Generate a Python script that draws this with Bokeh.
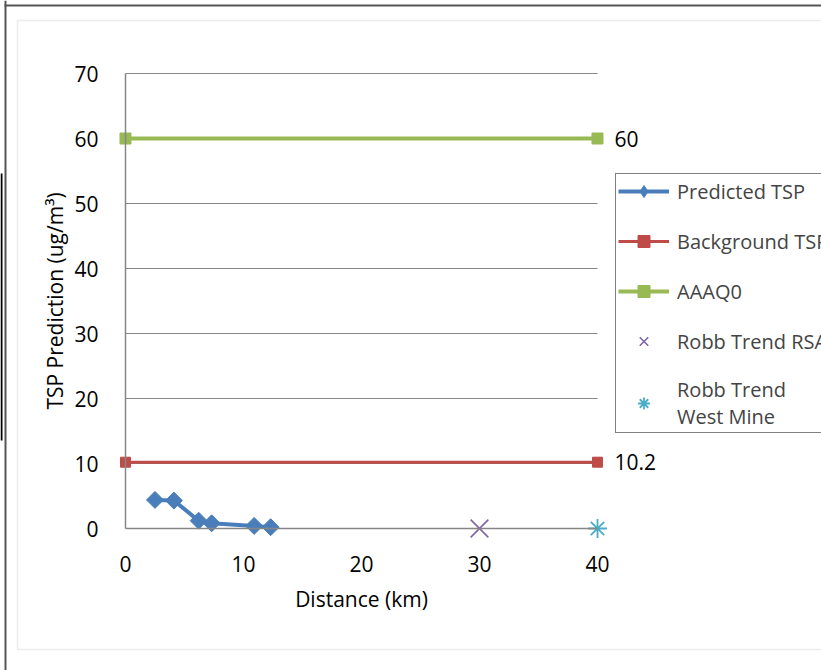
from bokeh.plotting import figure
from bokeh.models import (Legend, LegendItem, ColumnDataSource, LabelSet,
                          BoxAnnotation, Range1d)
from bokeh.core.properties import value
from bokeh.embed import file_html
from bokeh.resources import INLINE
import math

# --- data -------------------------------------------------------------
distance_km = [2.5, 4.1, 6.2, 7.3, 10.9, 12.3]
predicted_tsp = [4.4, 4.3, 1.2, 0.8, 0.4, 0.2]

background_x = [0, 40]
background_tsp = [10.2, 10.2]

aaaq_x = [0, 40]
aaaq_tsp = [60, 60]

robb_rsa_x = [30]
robb_rsa_y = [0]

robb_west_x = [40]
robb_west_y = [0]

x_ticks = [0, 10, 20, 30, 40]
y_ticks = [0, 10, 20, 30, 40, 50, 60, 70]

FONT = "Open Sans"
GRID = "#868686"

# The frame fills the whole canvas; axes sit at fixed data positions so
# that markers on the plot edges and the legend are not cut by the frame.
p = figure(width=821, height=670, output_backend="svg", toolbar_location=None,
           x_range=Range1d(-10.593, 58.983), y_range=Range1d(-21.846, 81.231),
           min_border=0)
p.outline_line_color = None
p.background_fill_color = "white"
p.border_fill_color = "white"

# horizontal gridlines, limited to the plotting area
p.xgrid.grid_line_color = None
p.ygrid.grid_line_color = None
p.segment(x0=x_ticks[0], x1=x_ticks[-1], y0=y_ticks[1:], y1=y_ticks[1:],
          line_color=GRID, line_width=1.2, level="underlay")

# axes
for ax in (p.xaxis, p.yaxis):
    ax.fixed_location = 0
    ax.axis_line_color = GRID
    ax.axis_line_width = 1.5
    ax.major_tick_line_color = None
    ax.minor_tick_line_color = None
    ax.major_label_text_font = FONT
    ax.major_label_text_font_size = "21px"
    ax.major_label_text_color = "black"
    ax.axis_label_text_font = FONT
    ax.axis_label_text_font_size = "21px"
    ax.axis_label_text_font_style = "normal"
    ax.axis_label_text_color = "black"
    ax.major_label_standoff = 21

p.xaxis.ticker = x_ticks
p.yaxis.ticker = y_ticks
p.xaxis.bounds = (x_ticks[0], x_ticks[-1])
p.yaxis.bounds = (y_ticks[0], y_ticks[-1])
p.xaxis.axis_label = "Distance (km)"
p.yaxis.axis_label = "TSP Prediction (ug/m\u00b3)"
p.xaxis.axis_label_standoff = 10
p.yaxis.axis_label_standoff = 2

# series
BLUE, RED, GREEN, PURPLE, CYAN = "#4a7ebb", "#be4b48", "#98b954", "#8064a2", "#4bacc6"

pred_line = p.line(distance_km, predicted_tsp, color=BLUE, line_width=4)
pred_mark = p.scatter(distance_km, predicted_tsp, marker="square", size=12,
                      angle=math.pi / 4, color=BLUE)
# diamond key for the legend entry (legend keys are drawn unrotated);
# its single point is NaN, so nothing appears in the plot area
pred_key = p.scatter(x=[math.nan], y=[math.nan], marker="diamond", size=12,
                     color=BLUE)

bg_line = p.line(background_x, background_tsp, color=RED, line_width=3)
bg_mark = p.scatter(background_x, background_tsp, marker="square", size=10,
                    color=RED)

aaaq_line = p.line(aaaq_x, aaaq_tsp, color=GREEN, line_width=4)
aaaq_mark = p.scatter(aaaq_x, aaaq_tsp, marker="square", size=11,
                      color=GREEN)

rsa_mark = p.scatter(robb_rsa_x, robb_rsa_y, marker="x", size=25,
                     line_color=PURPLE, line_width=1.6)
west_mark = p.scatter(robb_west_x, robb_west_y, marker="asterisk", size=19,
                      line_color=CYAN, line_width=1.8)

# value labels at the right end of the reference lines
lbl_src = ColumnDataSource(dict(
    x=[aaaq_x[-1], background_x[-1]],
    y=[aaaq_tsp[-1], background_tsp[-1]],
    text=[f"{aaaq_tsp[-1]:g}", f"{background_tsp[-1]:g}"],
))
p.add_layout(LabelSet(x="x", y="y", text="text", source=lbl_src,
                      x_offset=17, text_baseline="middle",
                      text_font=value(FONT), text_font_size=value("21px"),
                      text_color="black"))

legend = Legend(items=[
    LegendItem(label="Predicted TSP", renderers=[pred_line, pred_key]),
    LegendItem(label="Background TSP", renderers=[bg_line, bg_mark]),
    LegendItem(label="AAAQ0", renderers=[aaaq_line, aaaq_mark]),
    LegendItem(label="Robb Trend RSA", renderers=[rsa_mark]),
    LegendItem(label="Robb Trend\nWest Mine", renderers=[west_mark]),
], location=(615, 237))
legend.border_line_color = "black"
legend.border_line_width = 1
legend.label_text_font = FONT
legend.label_text_font_size = "20px"
legend.glyph_width = 51
legend.glyph_height = 30
legend.label_standoff = 8
legend.padding = 2
legend.spacing = 20
legend.margin = 0
p.add_layout(legend)

# chart-area frame and page edges
p.add_layout(BoxAnnotation(left=17, right=840, top=20, bottom=649,
                           left_units="canvas", right_units="canvas",
                           top_units="canvas", bottom_units="canvas",
                           fill_color=None, line_color="#c0c0c0",
                           line_width=1.5, level="underlay"))
p.add_layout(BoxAnnotation(left=4, right=6, top=0, bottom=670,
                           left_units="canvas", right_units="canvas",
                           top_units="canvas", bottom_units="canvas",
                           fill_color="#555555", fill_alpha=1,
                           line_color=None))
p.add_layout(BoxAnnotation(left=4, right=821, top=4, bottom=6,
                           left_units="canvas", right_units="canvas",
                           top_units="canvas", bottom_units="canvas",
                           fill_color="#555555", fill_alpha=1,
                           line_color=None))
p.add_layout(BoxAnnotation(left=0, right=2, top=173, bottom=440,
                           left_units="canvas", right_units="canvas",
                           top_units="canvas", bottom_units="canvas",
                           fill_color="black", fill_alpha=1,
                           line_color=None))

open("out.html", "w").write(file_html(p, INLINE))
